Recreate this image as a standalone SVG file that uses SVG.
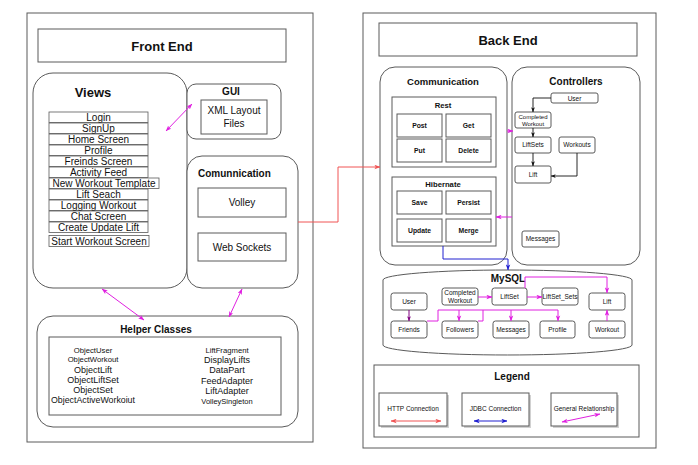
<svg xmlns="http://www.w3.org/2000/svg" width="698" height="465" viewBox="0 0 698 465">
<defs>
<style>
text{font-family:"Liberation Sans",Arial,sans-serif;fill:#111;text-anchor:middle}
.b{font-weight:bold}
.box{fill:#fff;stroke:#5a5a5a;stroke-width:1}
.thin{fill:#fff;stroke:#5a5a5a;stroke-width:0.8}
.mag{fill:none;stroke:#e020e0;stroke-width:1}
.red{fill:none;stroke:#f05555;stroke-width:1}
.blu{fill:none;stroke:#2020d0;stroke-width:1}
.blk{fill:none;stroke:#111;stroke-width:0.9}
.pur{fill:none;stroke:#800080;stroke-width:1}
.l10{font-size:10px}
.s65{font-size:6.5px}
.sh{fill:#999;opacity:0.45}
</style>
<marker id="am" viewBox="0 0 8 6" refX="7.5" refY="3" markerWidth="6" markerHeight="5" markerUnits="userSpaceOnUse" orient="auto-start-reverse"><path d="M0,0 L8,3 L0,6 L2,3 z" fill="#e020e0"/></marker>
<marker id="ar" viewBox="0 0 8 6" refX="7.5" refY="3" markerWidth="6" markerHeight="5" markerUnits="userSpaceOnUse" orient="auto-start-reverse"><path d="M0,0 L8,3 L0,6 L2,3 z" fill="#f05555"/></marker>
<marker id="ab" viewBox="0 0 8 6" refX="7.5" refY="3" markerWidth="6" markerHeight="5" markerUnits="userSpaceOnUse" orient="auto-start-reverse"><path d="M0,0 L8,3 L0,6 L2,3 z" fill="#2020d0"/></marker>
<marker id="ak" viewBox="0 0 8 6" refX="7.5" refY="3" markerWidth="5" markerHeight="4.5" markerUnits="userSpaceOnUse" orient="auto-start-reverse"><path d="M0,0 L8,3 L0,6 L2,3 z" fill="#111"/></marker>
<marker id="ap" viewBox="0 0 8 6" refX="7.5" refY="3" markerWidth="5" markerHeight="4.5" markerUnits="userSpaceOnUse" orient="auto-start-reverse"><path d="M0,0 L8,3 L0,6 L2,3 z" fill="#800080"/></marker>
</defs>
<rect width="698" height="465" fill="#fff"/>

<!-- Front End -->
<g id="front-end">
<rect class="box" x="27" y="13" width="286" height="429"/>
<rect class="box" x="38" y="29" width="248" height="33"/>
<text class="b" x="162" y="51" font-size="13">Front End</text>
</g>

<g id="views">
<rect class="box" x="33" y="73" width="154" height="215" rx="20"/>
<text class="b" x="93" y="97" font-size="13">Views</text>
<g class="l10">
<rect class="thin" x="49" y="112" width="99" height="10.5"/><text x="98.5" y="120.8">Login</text>
<rect class="thin" x="49" y="123" width="99" height="10.5"/><text x="98.5" y="131.8">SignUp</text>
<rect class="thin" x="49" y="134" width="99" height="10.5"/><text x="98.5" y="142.8">Home Screen</text>
<rect class="thin" x="49" y="145" width="99" height="10.5"/><text x="98.5" y="153.8">Profile</text>
<rect class="thin" x="49" y="156" width="99" height="10.5"/><text x="98.5" y="164.8">Freinds Screen</text>
<rect class="thin" x="49" y="167" width="99" height="10.5"/><text x="98.5" y="175.8">Activity Feed</text>
<rect class="thin" x="49" y="178" width="110" height="10.5"/><text x="104" y="186.8">New Workout Template</text>
<rect class="thin" x="49" y="189" width="99" height="10.5"/><text x="98.5" y="197.8">Lift Seach</text>
<rect class="thin" x="49" y="200" width="99" height="10.5"/><text x="98.5" y="208.8">Logging Workout</text>
<rect class="thin" x="49" y="211" width="99" height="10.5"/><text x="98.5" y="219.8">Chat Screen</text>
<rect class="thin" x="49" y="222" width="99" height="10.5"/><text x="98.5" y="230.8">Create Update Lift</text>
<rect class="thin" x="49" y="235.5" width="100" height="11"/><text x="99" y="244.5">Start Workout Screen</text>
</g>
</g>

<g id="gui">
<rect class="box" x="187" y="84" width="94" height="55" rx="9"/>
<text class="b" x="231" y="95" font-size="10">GUI</text>
<rect class="box" x="201" y="100" width="66" height="34"/>
<text class="l10" x="234" y="113.5">XML Layout</text>
<text class="l10" x="234" y="126.5">Files</text>
</g>

<g id="front-communication">
<rect class="box" x="187" y="156" width="111" height="132" rx="15"/>
<text class="b" x="198" y="177" font-size="10" style="text-anchor:start">Comunnication</text>
<rect class="box" x="198" y="188" width="88" height="29"/>
<text class="l10" x="242" y="206">Volley</text>
<rect class="box" x="198" y="233" width="88" height="28"/>
<text class="l10" x="242" y="250.5">Web Sockets</text>
</g>

<g id="helper-classes">
<rect class="box" x="37" y="316" width="261" height="111" rx="16"/>
<text class="b" x="156" y="333" font-size="10">Helper Classes</text>
<rect class="box" x="49" y="337" width="232" height="78"/>
<text x="93" y="352.7" font-size="7.7">ObjectUser</text>
<text x="93" y="362" font-size="7.7">ObjectWorkout</text>
<text x="93" y="372.7" font-size="9">ObjectLift</text>
<text x="93" y="382.7" font-size="9">ObjectLiftSet</text>
<text x="93" y="393" font-size="9">ObjectSet</text>
<text x="93" y="403.3" font-size="8.8">ObjectActiveWorkoiut</text>
<text x="227" y="352.7" font-size="7.7">LiftFragment</text>
<text x="227" y="363" font-size="9">DisplayLifts</text>
<text x="227" y="373" font-size="9">DataPart</text>
<text x="227" y="384" font-size="9">FeedAdapter</text>
<text x="227" y="394" font-size="9">LiftAdapter</text>
<text x="227" y="404" font-size="7.5">VolleySingleton</text>
</g>

<!-- Back End -->
<g id="back-end">
<rect class="box" x="363" y="13" width="293" height="435"/>
<rect class="box" x="379" y="23" width="258" height="33"/>
<text class="b" x="508" y="45" font-size="13">Back End</text>
</g>

<g id="back-communication">
<rect class="box" x="380" y="67" width="127" height="198" rx="15"/>
<text class="b" x="443" y="85" font-size="9.5">Communication</text>
<g id="rest">
<rect class="box" x="392" y="97" width="104" height="70"/>
<text class="b" x="443" y="107.5" font-size="7.7">Rest</text>
<rect class="box" x="397" y="114" width="45" height="23"/><text class="b" x="419.5" y="128" font-size="6.8">Post</text>
<rect class="box" x="446" y="114" width="45" height="23"/><text class="b" x="468.5" y="128" font-size="6.8">Get</text>
<rect class="box" x="397" y="139" width="45" height="23"/><text class="b" x="419.5" y="153" font-size="6.8">Put</text>
<rect class="box" x="446" y="139" width="45" height="23"/><text class="b" x="468.5" y="153" font-size="6.8">Delete</text>
</g>
<g id="hibernate">
<rect class="box" x="392" y="177" width="104" height="69"/>
<text class="b" x="443" y="187" font-size="7.7">Hibernate</text>
<rect class="box" x="397" y="191" width="45" height="23"/><text class="b" x="419.5" y="205" font-size="6.8">Save</text>
<rect class="box" x="446" y="191" width="45" height="23"/><text class="b" x="468.5" y="205" font-size="6.8">Persist</text>
<rect class="box" x="397" y="219" width="45" height="23"/><text class="b" x="419.5" y="233" font-size="6.8">Update</text>
<rect class="box" x="446" y="219" width="45" height="23"/><text class="b" x="468.5" y="233" font-size="6.8">Merge</text>
</g>
</g>

<g id="controllers">
<rect class="box" x="512" y="67" width="128" height="198" rx="15"/>
<text class="b" x="576" y="85" font-size="10">Controllers</text>
<g id="c-user"><rect class="box" x="551" y="93" width="47" height="10" rx="2"/><text class="s65" x="574.5" y="100.5">User</text></g>
<g id="c-completed"><rect class="box" x="515" y="112" width="36" height="16" rx="2"/><text x="533" y="118.5" font-size="6">Completed</text><text x="533" y="125.8" font-size="6">Workout</text></g>
<g id="c-liftsets"><rect class="box" x="515" y="137" width="36" height="16" rx="2"/><text class="s65" x="533" y="147.3">LiftSets</text></g>
<g id="c-workouts"><rect class="box" x="559" y="137" width="36" height="16" rx="2"/><text class="s65" x="577" y="147.3">Workouts</text></g>
<g id="c-lift"><rect class="box" x="515" y="166" width="36" height="17" rx="2"/><text class="s65" x="533" y="176.8">Lift</text></g>
<g id="c-messages"><rect class="box" x="522" y="231" width="37" height="16" rx="2"/><text class="s65" x="540.5" y="241.3">Messages</text></g>
</g>

<g id="mysql">
<path class="box" d="M383,280 A124.5,10 0 0,1 632,280 L632,345 A124.5,10 0 0,1 383,345 Z"/>
<text class="b" x="508" y="282" font-size="10">MySQL</text>
<g id="m-user"><rect class="box" x="391" y="293" width="36" height="17" rx="2.5"/><text class="s65" x="409" y="303.8">User</text></g>
<g id="m-completed"><rect class="box" x="442" y="288" width="36" height="17" rx="2.5"/><text class="s65" x="460" y="295">Completed</text><text class="s65" x="460" y="302.5">Workout</text></g>
<g id="m-liftset"><rect class="box" x="492" y="288" width="35" height="17" rx="2.5"/><text class="s65" x="509.5" y="298.8">LiftSet</text></g>
<g id="m-liftset-sets"><rect class="box" x="542" y="288" width="36" height="17" rx="2.5"/><text class="s65" x="560" y="298.8">LiftSet_Sets</text></g>
<g id="m-lift"><rect class="box" x="589" y="293" width="36" height="17" rx="2.5"/><text class="s65" x="607" y="303.8">Lift</text></g>
<g id="m-friends"><rect class="box" x="391" y="321" width="36" height="17" rx="2.5"/><text class="s65" x="409" y="331.8">Friends</text></g>
<g id="m-followers"><rect class="box" x="442" y="321" width="36" height="17" rx="2.5"/><text class="s65" x="460" y="331.8">Followers</text></g>
<g id="m-messages"><rect class="box" x="493" y="321" width="36" height="17" rx="2.5"/><text class="s65" x="511" y="331.8">Messages</text></g>
<g id="m-profile"><rect class="box" x="540" y="321" width="35" height="17" rx="2.5"/><text class="s65" x="557.5" y="331.8">Profile</text></g>
<g id="m-workout"><rect class="box" x="589" y="321" width="36" height="17" rx="2.5"/><text class="s65" x="607" y="331.8">Workout</text></g>
</g>

<g id="legend">
<rect class="box" x="374" y="365" width="265" height="72"/>
<text class="b" x="512" y="380" font-size="10">Legend</text>
<g id="lg-http"><rect class="sh" x="381" y="395" width="68" height="33"/><rect class="box" x="379" y="393" width="68" height="33"/><text class="s65" x="413" y="411">HTTP Connection</text></g>
<g id="lg-jdbc"><rect class="sh" x="464" y="395" width="67" height="33"/><rect class="box" x="462" y="393" width="67" height="33"/><text class="s65" x="495.5" y="411">JDBC Connection</text></g>
<g id="lg-general"><rect class="sh" x="553" y="395" width="66" height="33"/><rect class="box" x="551" y="393" width="66" height="33"/><text class="s65" x="584" y="411">General Relationship</text></g>
</g>

<g id="connectors">
<line class="mag" x1="166" y1="131" x2="192" y2="104" marker-start="url(#am)" marker-end="url(#am)"/>
<line class="mag" x1="102" y1="289" x2="144" y2="320" marker-start="url(#am)" marker-end="url(#am)"/>
<line class="mag" x1="242" y1="289" x2="229" y2="317" marker-start="url(#am)" marker-end="url(#am)"/>
<path class="red" d="M298,222 H338 V167 H380" marker-end="url(#ar)"/>
<path class="mag" d="M507,131 H513" marker-end="url(#am)"/>
<path class="mag" d="M512,217 H496" marker-end="url(#am)"/>
<path class="blu" d="M443,246 V259 H508 V270" marker-end="url(#ab)"/>
<path class="blk" d="M551,98 H533 V112" marker-end="url(#ak)"/>
<path class="blk" d="M533,128 V137" marker-end="url(#ak)"/>
<path class="blk" d="M533,153 V166" marker-end="url(#ak)"/>
<path class="blk" d="M577,153 V176 H551" marker-end="url(#ak)"/>
<path class="mag" d="M478,297 H492" marker-end="url(#am)"/>
<path class="mag" d="M527,297 H542" marker-end="url(#am)"/>
<path class="mag" d="M525,288 V277 H607 V293" marker-end="url(#am)"/>
<path class="pur" d="M409,310 V321" marker-end="url(#ap)"/>
<path class="mag" d="M427,321 H438 V310 H558 V321" marker-end="url(#am)"/>
<path class="mag" d="M459,310 V321" marker-end="url(#am)"/>
<path class="mag" d="M511,310 V321" marker-end="url(#am)"/>
<path class="mag" d="M478,321 H483 V310"/>
<path class="mag" d="M607,321 V310" marker-end="url(#am)"/>
<line class="red" x1="391" y1="421" x2="441" y2="421" marker-start="url(#ar)" marker-end="url(#ar)"/>
<line class="blu" x1="474" y1="421" x2="507" y2="421" marker-start="url(#ab)" marker-end="url(#ab)"/>
<line class="mag" x1="562" y1="422" x2="600" y2="414" marker-start="url(#am)" marker-end="url(#am)"/>
</g>
</svg>
